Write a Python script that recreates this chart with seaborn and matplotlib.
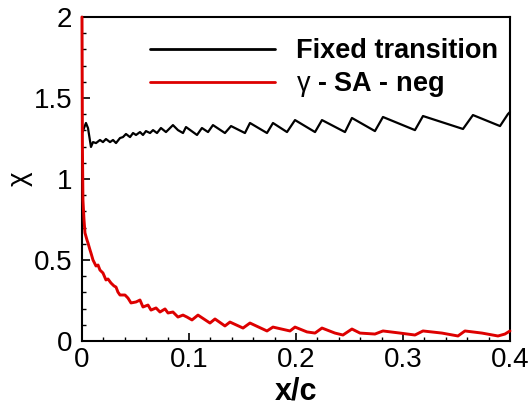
import matplotlib
matplotlib.use("Agg")
import matplotlib.pyplot as plt
from matplotlib.ticker import MultipleLocator
import numpy as np
import pandas as pd
import seaborn as sns

# ---- data ----
fixed_x = [0.0005, 0.0037, 0.0056, 0.0084, 0.0103, 0.0131, 0.0168, 0.0196, 0.0224, 0.0262,
           0.0290, 0.0318, 0.0355, 0.0383, 0.0411, 0.0449, 0.0477, 0.0505, 0.0542, 0.0570,
           0.0598, 0.0636, 0.0664, 0.0701, 0.0738, 0.0785, 0.0850, 0.0897, 0.0944, 0.0972,
           0.1075, 0.1121, 0.1178, 0.1224, 0.1336, 0.1393, 0.1523, 0.1570, 0.1729, 0.1785,
           0.1916, 0.1991, 0.2178, 0.2243, 0.2458, 0.2523, 0.2738, 0.2813, 0.3112, 0.3187,
           0.3561, 0.3654, 0.3907, 0.3981, 0.4000]
fixed_y = [1.290, 1.346, 1.315, 1.198, 1.228, 1.222, 1.241, 1.228, 1.247, 1.228,
           1.241, 1.222, 1.253, 1.259, 1.278, 1.259, 1.284, 1.272, 1.290, 1.272,
           1.296, 1.284, 1.302, 1.284, 1.315, 1.290, 1.333, 1.302, 1.284, 1.321,
           1.272, 1.315, 1.290, 1.333, 1.284, 1.327, 1.284, 1.346, 1.284, 1.346,
           1.290, 1.364, 1.290, 1.364, 1.290, 1.377, 1.296, 1.383, 1.302, 1.389,
           1.309, 1.395, 1.327, 1.401, 1.414]

gsa_x = [0.0000, 0.0004, 0.0009, 0.0019, 0.0028, 0.0047, 0.0056, 0.0075, 0.0084, 0.0103,
         0.0131, 0.0150, 0.0168, 0.0196, 0.0224, 0.0243, 0.0271, 0.0299, 0.0318, 0.0336,
         0.0355, 0.0402, 0.0430, 0.0458, 0.0505, 0.0542, 0.0570, 0.0617, 0.0645, 0.0692,
         0.0729, 0.0776, 0.0804, 0.0850, 0.0897, 0.0944, 0.0981, 0.1028, 0.1084, 0.1196,
         0.1243, 0.1336, 0.1383, 0.1505, 0.1570, 0.1729, 0.1785, 0.1944, 0.1991, 0.2103,
         0.2178, 0.2243, 0.2364, 0.2439, 0.2523, 0.2598, 0.2738, 0.2813, 0.2972, 0.3112,
         0.3187, 0.3364, 0.3514, 0.3579, 0.3738, 0.3888, 0.3953, 0.4000]
gsa_y = [2.000, 1.200, 0.870, 0.747, 0.667, 0.623, 0.605, 0.562, 0.543, 0.500,
         0.463, 0.469, 0.438, 0.420, 0.377, 0.383, 0.358, 0.340, 0.333, 0.302,
         0.284, 0.284, 0.265, 0.235, 0.241, 0.253, 0.210, 0.222, 0.191, 0.204,
         0.179, 0.198, 0.173, 0.179, 0.148, 0.160, 0.148, 0.130, 0.160, 0.111,
         0.136, 0.093, 0.117, 0.080, 0.111, 0.062, 0.086, 0.062, 0.086, 0.056,
         0.049, 0.080, 0.049, 0.037, 0.074, 0.049, 0.043, 0.062, 0.049, 0.037,
         0.062, 0.049, 0.031, 0.062, 0.049, 0.031, 0.043, 0.062]

series_labels = ["Fixed transition", r"$\mathrm{\gamma}$ - SA - neg"]
series_colors = ["#000000", "#dd0000"]
x_ticks = [0.0, 0.1, 0.2, 0.3, 0.4]
x_tick_labels = ["0", "0.1", "0.2", "0.3", "0.4"]
y_ticks = [0.0, 0.5, 1.0, 1.5, 2.0]
y_tick_labels = ["0", "0.5", "1", "1.5", "2"]
x_label = "x/c"
y_label = "χ"

# ---- style ----
sns.set_style("white")
plt.rcParams["font.family"] = ["Liberation Sans", "DejaVu Sans"]
plt.rcParams["mathtext.fontset"] = "custom"
plt.rcParams["mathtext.rm"] = "Liberation Sans"
plt.rcParams["mathtext.it"] = "Liberation Sans:italic"
plt.rcParams["mathtext.bf"] = "Liberation Sans:bold"
plt.rcParams["text.color"] = "black"
plt.rcParams["axes.labelcolor"] = "black"
plt.rcParams["xtick.color"] = "black"
plt.rcParams["ytick.color"] = "black"
plt.rcParams["xtick.labelcolor"] = "black"
plt.rcParams["ytick.labelcolor"] = "black"
plt.rcParams["legend.labelcolor"] = "black"

fig = plt.figure(figsize=(5.30, 4.08), dpi=100)
ax = fig.add_axes([0.1547, 0.1642, 0.8075, 0.794])

df_fixed = pd.DataFrame({"x": fixed_x, "y": fixed_y})
df_gsa = pd.DataFrame({"x": gsa_x, "y": gsa_y})

sns.lineplot(data=df_fixed, x="x", y="y", color=series_colors[0], linewidth=1.6,
             estimator=None, sort=False, label=series_labels[0], ax=ax)
sns.lineplot(data=df_gsa, x="x", y="y", color=series_colors[1], linewidth=2.1,
             estimator=None, sort=False, label=series_labels[1], ax=ax)
for ln in ax.lines:
    ln.set_zorder(3)
    ln.set_clip_on(False)

ax.set_xlim(0, 0.4)
ax.set_ylim(0, 2)
ax.set_xticks(x_ticks)
ax.set_xticklabels(x_tick_labels)
ax.set_yticks(y_ticks)
ax.set_yticklabels(y_tick_labels)
ax.xaxis.set_minor_locator(MultipleLocator(0.02))
ax.yaxis.set_minor_locator(MultipleLocator(0.1))
ax.tick_params(which="major", direction="in", length=5.8, width=1.2, labelsize=20,
               top=False, right=False, bottom=True, left=True, color="black",
               labelcolor="black")
ax.tick_params(axis="x", which="major", pad=4)
ax.tick_params(axis="y", which="major", pad=7)
ax.tick_params(which="minor", direction="in", length=3, width=1.0,
               top=False, right=False, bottom=True, left=True, color="black")
for sp in ax.spines.values():
    sp.set_linewidth(1.5)
    sp.set_color("black")

ax.set_xlabel(x_label, fontsize=22, fontweight="bold", labelpad=3, color="black")
ax.set_ylabel(y_label, fontsize=20, labelpad=1, color="black")

leg = ax.legend(loc="upper left", bbox_to_anchor=(0.159, 0.935), frameon=False,
                handlelength=4.6, handletextpad=0.8, labelspacing=0.22,
                borderpad=0, borderaxespad=0,
                prop={"size": 19.5, "weight": "bold"})
for h in leg.get_lines():
    h.set_linewidth(2.0)
for t in leg.get_texts():
    t.set_color("black")

fig.savefig("out.png", dpi=100)
